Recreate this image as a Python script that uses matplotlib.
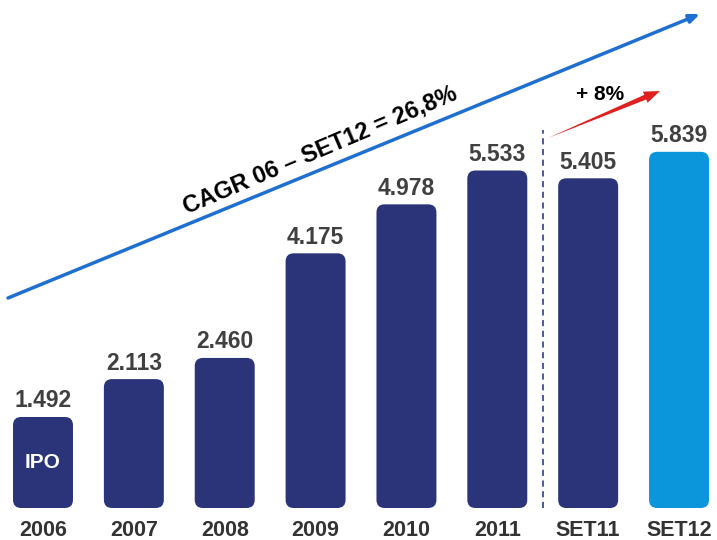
import matplotlib
matplotlib.use("Agg")
import matplotlib.pyplot as plt
from matplotlib.patches import FancyBboxPatch, Polygon
import numpy as np

categories = ["2006", "2007", "2008", "2009", "2010", "2011", "SET11", "SET12"]
values = [1.492, 2.113, 2.460, 4.175, 4.978, 5.533, 5.405, 5.839]
value_labels = ["1.492", "2.113", "2.460", "4.175", "4.978", "5.533", "5.405", "5.839"]
cagr_text = "CAGR 06 – SET12 = 26,8%"
growth_text = "+ 8%"
ipo_text = "IPO"

plt.rcParams['font.family'] = ['Liberation Sans', 'DejaVu Sans']

W, H = 717, 540
fig = plt.figure(figsize=(W / 100, H / 100), dpi=100)
ax = fig.add_axes([0, 0, 1, 1])
ax.axis('off')

px_x = 90.86   # pixels per category unit
px_y = 61.0    # pixels per value unit
xmin = -43 / px_x
ymin = -32 / px_y
ax.set_xlim(xmin, xmin + W / px_x)
ax.set_ylim(ymin, ymin + H / px_y)

navy = "#2b3479"
light = "#0b96dc"
colors = [navy] * 7 + [light]
x = np.arange(len(categories))
bw = 0.66
bars = ax.bar(x, values, width=bw, color="none", edgecolor="none")
for b, c in zip(bars, colors):
    p = FancyBboxPatch((b.get_x(), b.get_y()), b.get_width(), b.get_height(),
                       boxstyle="round,pad=0,rounding_size=0.09",
                       mutation_aspect=px_x / px_y, facecolor=c, edgecolor="none",
                       zorder=2)
    ax.add_patch(p)

for xi, v, lab in zip(x, values, value_labels):
    ax.text(xi, v + 16 / px_y, lab, ha="center", va="center", fontsize=16.5,
            fontweight="bold", color="#404040", zorder=3)
for xi, cat in zip(x, categories):
    ax.text(xi, ymin + 10 / px_y, cat, ha="center", va="center", fontsize=15.5,
            fontweight="bold", color="#333333")

ax.text(x[0], values[0] * 0.5, ipo_text, ha="center", va="center", fontsize=15,
        fontweight="bold", color="white", zorder=3)

# dashed separator
ax.plot([6 - 0.5, 6 - 0.5], [0, 6.2], ls=(0, (4, 3)), color="#1c2a8c", lw=1.1)

# big blue arrow
ax.annotate("", xy=(700 / W, 1 - 14 / H), xytext=(8 / W, 1 - 298 / H),
            xycoords="axes fraction", textcoords="axes fraction",
            arrowprops=dict(arrowstyle="-|>,head_length=0.6,head_width=0.25",
                            color="#1f6fd0", lw=2.5, shrinkA=0, shrinkB=0))
ax.text(320 / W, 1 - 150 / H, cagr_text, transform=ax.transAxes, rotation=23,
        ha="center", va="center", fontsize=17, fontweight="bold", color="black",
        rotation_mode="anchor")

# red tapered growth arrow (pixel geometry -> axes fraction)
tail = np.array([548.0, 138.0])
tip = np.array([660.0, 91.0])
d = tip - tail
L = np.hypot(*d)
u = d / L
n = np.array([u[1], -u[0]])
neck = tail + u * (L - 16)
pts_px = [tail,
          neck + n * 2.5,
          neck + n * 6,
          tip,
          neck - n * 6,
          neck - n * 2.5]
pts = [(p[0] / W, 1 - p[1] / H) for p in pts_px]
ax.add_patch(Polygon(pts, closed=True, transform=ax.transAxes,
                     facecolor="#e0201e", edgecolor="none"))
ax.text(600 / W, 1 - 95 / H, growth_text, transform=ax.transAxes, ha="center",
        va="center", fontsize=15, fontweight="bold", color="black")

fig.savefig("out.png", dpi=100)
